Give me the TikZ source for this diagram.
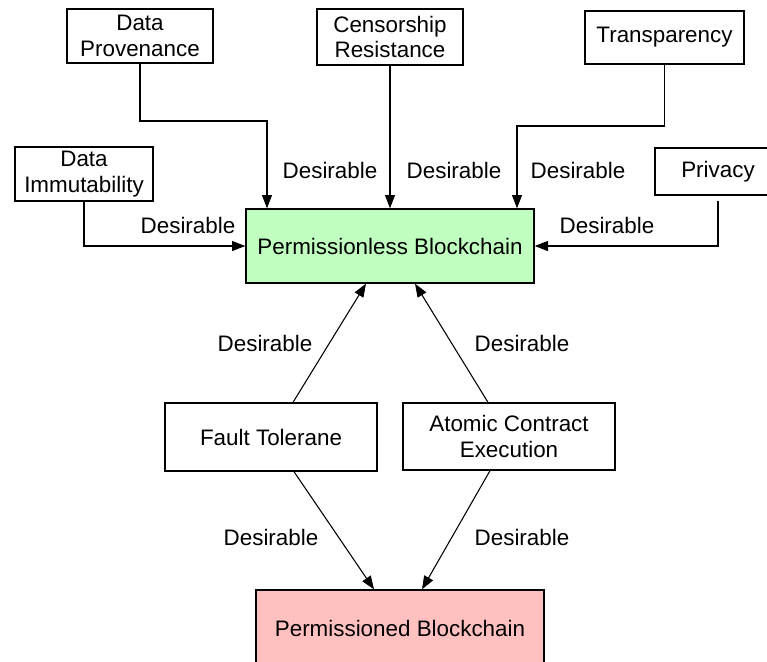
\documentclass[tikz,border=0pt]{standalone}
\usepackage{fontspec}
\setmainfont{Liberation Sans}
\usetikzlibrary{arrows.meta,calc}
\definecolor{pgreen}{RGB}{192,255,192}
\definecolor{ppink}{RGB}{255,192,192}
\begin{document}
\begin{tikzpicture}[x=0.75pt,y=-0.75pt,
  box/.style={draw,line width=1pt,align=center,inner sep=0pt,font=\fontsize{16.8}{19}\selectfont},
  bx/.style 2 args={minimum width=#1*0.75pt,minimum height=#2*0.75pt},
  lbl/.style={inner sep=0pt,font=\fontsize{16.8}{19}\selectfont},
  arr/.style={line width=0.8pt,-{Triangle[length=10pt,width=7.5pt]}}]
\useasboundingbox (0,0) rectangle (767,661);
\clip (0,0) rectangle (767,661);
\fill[white] (0,0) rectangle (767,661);

\node[box,bx={146}{54}] (prov) at (140,36) {Data\\Provenance};
\node[box,bx={146}{56}] (cens) at (390,37) {Censorship\\Resistance};
\node[box,bx={159}{53}] (trans) at (664.5,37.5) {Transparency};
\node[box,bx={138}{54}] (immut) at (84,174) {Data\\Immutability};
\node[box,bx={126}{47}] (priv) at (718,171.5) {Privacy};
\node[box,bx={288}{74},fill=pgreen] (pless) at (390,246) {Permissionless Blockchain};
\node[box,bx={212}{68}] (fault) at (271,437) {Fault Tolerane};
\node[box,bx={212}{67}] (atom) at (509,436.5) {Atomic Contract\\Execution};
\node[box,bx={288}{76},fill=ppink] (pned) at (400,628) {Permissioned Blockchain};

\coordinate (pk1) at (267,121);
\coordinate (pk2) at (517,126);
\draw[arr] (prov.south) |- (pk1) -- (pk1 |- pless.north);
\draw[arr] (cens.south) -- (pless.north);
\draw[arr] (trans.south) |- (pk2) -- (pk2 |- pless.north);
\draw[arr] (immut.south) |- (pless.west);
\draw[arr,shorten <=3.75pt] (priv.south) |- (pless.east);

\draw[arr] ($(fault.north)+(22,0)$) -- ($(pless.south)+(-24,0)$);
\draw[arr] ($(atom.north)+(-21,0)$) -- ($(pless.south)+(25,0)$);
\draw[arr] ($(fault.south)+(23,0)$) -- ($(pned.north)+(-26,0)$);
\draw[arr] ($(atom.south)+(-19,0)$) -- ($(pned.north)+(22,0)$);

\node[lbl] (l1) at (330,170) {Desirable};
\node[lbl] (l2) at (454,170) {Desirable};
\node[lbl] (l3) at (578,170) {Desirable};
\node[lbl] (l4) at (188,225) {Desirable};
\node[lbl] (l5) at (607,225) {Desirable};
\node[lbl] (l6) at (265,343) {Desirable};
\node[lbl] (l7) at (522,343) {Desirable};
\node[lbl] (l8) at (271,537) {Desirable};
\node[lbl] (l9) at (522,537) {Desirable};
\end{tikzpicture}
\end{document}
